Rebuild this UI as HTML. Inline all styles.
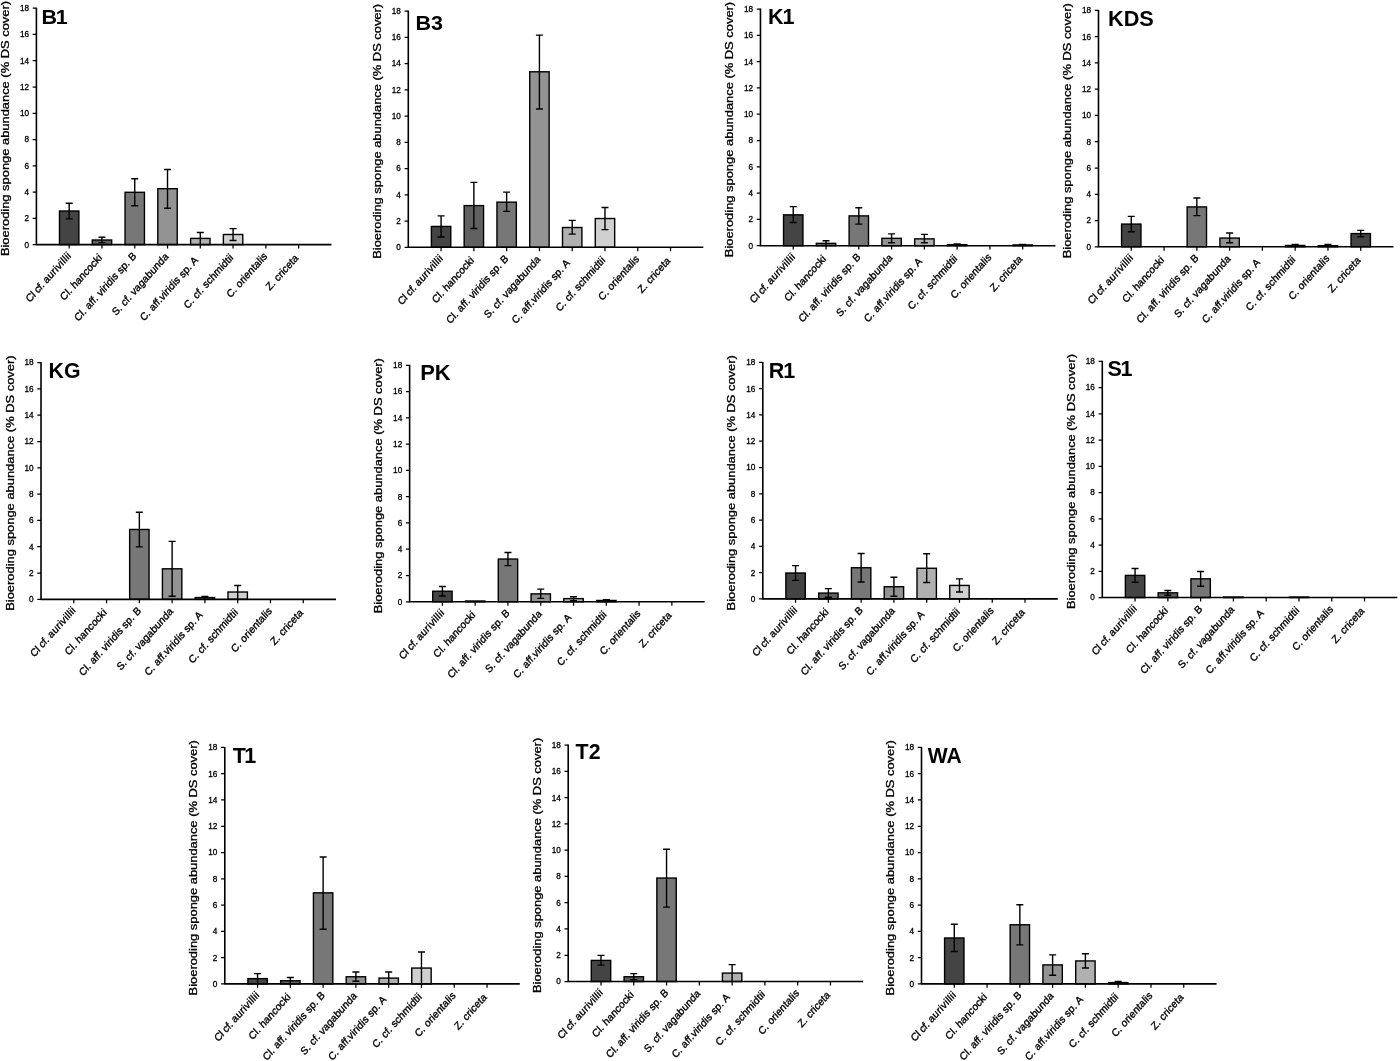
<!DOCTYPE html>
<html><head><meta charset="utf-8"><title>Bioeroding sponge abundance</title>
<style>
html,body{margin:0;padding:0;background:#fff}
svg{display:block}
text{font-family:"Liberation Sans",sans-serif;fill:#000}
.t{font-size:8.2px;text-anchor:end;stroke:#000;stroke-width:0.3px}
.x{font-size:9.8px;text-anchor:end;letter-spacing:0.1px;stroke:#000;stroke-width:0.35px}
.y{font-size:10px;stroke:#000;stroke-width:0.3px}
.h{font-size:20.5px;font-weight:bold}
</style></head><body>
<svg width="1400" height="1061" viewBox="0 0 1400 1061">
<rect width="1400" height="1061" fill="#fff"/>
<g id="B1">
<rect x="59.48" y="211.00" width="19.40" height="33.60" fill="#444444" stroke="#000" stroke-width="1.4"/>
<path d="M69.18 203.30V218.90M65.68 203.30h7M65.68 218.90h7" stroke="#000" stroke-width="1.4" fill="none"/>
<rect x="92.26" y="240.00" width="19.40" height="4.60" fill="#606060" stroke="#000" stroke-width="1.4"/>
<path d="M101.96 237.30V242.60M98.46 237.30h7M98.46 242.60h7" stroke="#000" stroke-width="1.4" fill="none"/>
<rect x="125.04" y="192.30" width="19.40" height="52.30" fill="#777777" stroke="#000" stroke-width="1.4"/>
<path d="M134.74 178.80V205.80M131.24 178.80h7M131.24 205.80h7" stroke="#000" stroke-width="1.4" fill="none"/>
<rect x="157.82" y="188.70" width="19.40" height="55.90" fill="#939393" stroke="#000" stroke-width="1.4"/>
<path d="M167.52 169.50V208.30M164.02 169.50h7M164.02 208.30h7" stroke="#000" stroke-width="1.4" fill="none"/>
<rect x="190.60" y="238.40" width="19.40" height="6.20" fill="#b0b0b0" stroke="#000" stroke-width="1.4"/>
<path d="M200.30 232.50V244.60M196.80 232.50h7" stroke="#000" stroke-width="1.4" fill="none"/>
<rect x="223.38" y="234.50" width="19.40" height="10.10" fill="#d0d0d0" stroke="#000" stroke-width="1.4"/>
<path d="M233.08 228.60V240.50M229.58 228.60h7M229.58 240.50h7" stroke="#000" stroke-width="1.4" fill="none"/>
<path class="ax" d="M36.40 7.70V244.60M35.80 244.60H331.42" stroke="#000" stroke-width="1.6" fill="none"/>
<path d="M32.70 244.60H36.40M32.70 218.33H36.40M32.70 192.07H36.40M32.70 165.80H36.40M32.70 139.53H36.40M32.70 113.27H36.40M32.70 87.00H36.40M32.70 60.73H36.40M32.70 34.47H36.40M32.70 8.20H36.40M69.18 244.60v3.9M101.96 244.60v3.9M134.74 244.60v3.9M167.52 244.60v3.9M200.30 244.60v3.9M233.08 244.60v3.9M265.86 244.60v3.9M298.64 244.60v3.9" stroke="#000" stroke-width="1.25" fill="none"/>
<text class="t" x="29.00" y="247.50">0</text>
<text class="t" x="29.00" y="221.23">2</text>
<text class="t" x="29.00" y="194.97">4</text>
<text class="t" x="29.00" y="168.70">6</text>
<text class="t" x="29.00" y="142.43">8</text>
<text class="t" x="29.00" y="116.17">10</text>
<text class="t" x="29.00" y="89.90">12</text>
<text class="t" x="29.00" y="63.63">14</text>
<text class="t" x="29.00" y="37.37">16</text>
<text class="t" x="29.00" y="11.10">18</text>
<text class="x" transform="translate(71.72 256.16) scale(1 1.115) rotate(-45)"><tspan style="letter-spacing:-0.15px">Cl cf. </tspan><tspan style="letter-spacing:0.33px">aurivillii</tspan></text>
<text class="x" transform="translate(102.62 258.24) scale(1 1.115) rotate(-45)">Cl. hancocki</text>
<text class="x" transform="translate(137.01 256.46) scale(1 1.115) rotate(-45)">Cl. aff. viridis sp. B</text>
<text class="x" transform="translate(169.12 257.20) scale(1 1.115) rotate(-45)">S. cf. vagabunda</text>
<text class="x" transform="translate(198.63 260.85) scale(1 1.115) rotate(-45)">C. aff.viridis sp. A</text>
<text class="x" transform="translate(233.88 258.09) scale(1 1.115) rotate(-45)">C. cf. schmidtii</text>
<text class="x" transform="translate(267.86 256.75) scale(1 1.115) rotate(-45)">C. orientalis</text>
<text class="x" transform="translate(298.97 258.61) scale(1 1.115) rotate(-45)">Z. criceta</text>
<text class="y" transform="translate(9.10 256.10) rotate(-90)" textLength="255.1" lengthAdjust="spacingAndGlyphs">Bioeroding sponge abundance (% DS cover)</text>
<text class="h" style="letter-spacing:-1.2px" transform="translate(41.40 24.00) scale(1.05 0.97)">B1</text>
</g>
<g id="B3">
<rect x="431.38" y="226.45" width="19.40" height="20.85" fill="#444444" stroke="#000" stroke-width="1.4"/>
<path d="M441.08 215.89V237.01M437.58 215.89h7M437.58 237.01h7" stroke="#000" stroke-width="1.4" fill="none"/>
<rect x="464.16" y="205.60" width="19.40" height="41.70" fill="#606060" stroke="#000" stroke-width="1.4"/>
<path d="M473.86 182.38V228.56M470.36 182.38h7M470.36 228.56h7" stroke="#000" stroke-width="1.4" fill="none"/>
<rect x="496.94" y="202.17" width="19.40" height="45.13" fill="#777777" stroke="#000" stroke-width="1.4"/>
<path d="M506.64 192.14V211.41M503.14 192.14h7M503.14 211.41h7" stroke="#000" stroke-width="1.4" fill="none"/>
<rect x="529.72" y="71.79" width="19.40" height="175.51" fill="#939393" stroke="#000" stroke-width="1.4"/>
<path d="M539.42 35.10V109.00M535.92 35.10h7M535.92 109.00h7" stroke="#000" stroke-width="1.4" fill="none"/>
<rect x="562.50" y="227.51" width="19.40" height="19.79" fill="#b0b0b0" stroke="#000" stroke-width="1.4"/>
<path d="M572.20 220.38V234.11M568.70 220.38h7M568.70 234.11h7" stroke="#000" stroke-width="1.4" fill="none"/>
<rect x="595.28" y="218.53" width="19.40" height="28.77" fill="#d0d0d0" stroke="#000" stroke-width="1.4"/>
<path d="M604.98 207.45V229.62M601.48 207.45h7M601.48 229.62h7" stroke="#000" stroke-width="1.4" fill="none"/>
<path class="ax" d="M408.30 10.59V247.30M407.70 247.30H703.32" stroke="#000" stroke-width="1.6" fill="none"/>
<path d="M404.60 247.30H408.30M404.60 221.06H408.30M404.60 194.81H408.30M404.60 168.56H408.30M404.60 142.32H408.30M404.60 116.07H408.30M404.60 89.82H408.30M404.60 63.58H408.30M404.60 37.33H408.30M404.60 11.09H408.30M441.08 247.30v3.9M473.86 247.30v3.9M506.64 247.30v3.9M539.42 247.30v3.9M572.20 247.30v3.9M604.98 247.30v3.9M637.76 247.30v3.9M670.54 247.30v3.9" stroke="#000" stroke-width="1.25" fill="none"/>
<text class="t" x="400.90" y="250.20">0</text>
<text class="t" x="400.90" y="223.96">2</text>
<text class="t" x="400.90" y="197.71">4</text>
<text class="t" x="400.90" y="171.46">6</text>
<text class="t" x="400.90" y="145.22">8</text>
<text class="t" x="400.90" y="118.97">10</text>
<text class="t" x="400.90" y="92.72">12</text>
<text class="t" x="400.90" y="66.48">14</text>
<text class="t" x="400.90" y="40.23">16</text>
<text class="t" x="400.90" y="13.99">18</text>
<text class="x" transform="translate(443.61 258.86) scale(1 1.115) rotate(-45)"><tspan style="letter-spacing:-0.15px">Cl cf. </tspan><tspan style="letter-spacing:0.33px">aurivillii</tspan></text>
<text class="x" transform="translate(474.52 260.94) scale(1 1.115) rotate(-45)">Cl. hancocki</text>
<text class="x" transform="translate(508.91 259.16) scale(1 1.115) rotate(-45)">Cl. aff. viridis sp. B</text>
<text class="x" transform="translate(541.02 259.90) scale(1 1.115) rotate(-45)">S. cf. vagabunda</text>
<text class="x" transform="translate(570.53 263.55) scale(1 1.115) rotate(-45)">C. aff.viridis sp. A</text>
<text class="x" transform="translate(605.78 260.79) scale(1 1.115) rotate(-45)">C. cf. schmidtii</text>
<text class="x" transform="translate(639.76 259.46) scale(1 1.115) rotate(-45)">C. orientalis</text>
<text class="x" transform="translate(670.87 261.32) scale(1 1.115) rotate(-45)">Z. criceta</text>
<text class="y" transform="translate(381.00 258.80) rotate(-90)" textLength="254.9" lengthAdjust="spacingAndGlyphs">Bioeroding sponge abundance (% DS cover)</text>
<text class="h" transform="translate(415.40 30.09) scale(1.05 0.98)">B3</text>
</g>
<g id="K1">
<rect x="783.55" y="214.84" width="19.40" height="30.88" fill="#444444" stroke="#000" stroke-width="1.4"/>
<path d="M793.25 206.66V222.49M789.75 206.66h7M789.75 222.49h7" stroke="#000" stroke-width="1.4" fill="none"/>
<rect x="816.33" y="243.34" width="19.40" height="2.38" fill="#606060" stroke="#000" stroke-width="1.4"/>
<path d="M826.03 240.70V245.72M822.53 240.70h7" stroke="#000" stroke-width="1.4" fill="none"/>
<rect x="849.11" y="215.89" width="19.40" height="29.82" fill="#777777" stroke="#000" stroke-width="1.4"/>
<path d="M858.81 207.71V224.08M855.31 207.71h7M855.31 224.08h7" stroke="#000" stroke-width="1.4" fill="none"/>
<rect x="881.89" y="238.33" width="19.40" height="7.39" fill="#939393" stroke="#000" stroke-width="1.4"/>
<path d="M891.59 233.84V242.82M888.09 233.84h7M888.09 242.82h7" stroke="#000" stroke-width="1.4" fill="none"/>
<rect x="914.67" y="238.86" width="19.40" height="6.86" fill="#b0b0b0" stroke="#000" stroke-width="1.4"/>
<path d="M924.37 234.37V242.82M920.87 234.37h7M920.87 242.82h7" stroke="#000" stroke-width="1.4" fill="none"/>
<rect x="947.45" y="244.66" width="19.40" height="1.06" fill="#d0d0d0" stroke="#000" stroke-width="1.4"/>
<path d="M957.15 243.87V245.72M953.65 243.87h7" stroke="#000" stroke-width="1.4" fill="none"/>
<rect x="1013.01" y="244.93" width="19.40" height="0.79" fill="#444444" stroke="#000" stroke-width="1.4"/>
<path d="M1022.71 244.40V245.72M1019.21 244.40h7" stroke="#000" stroke-width="1.4" fill="none"/>
<path class="ax" d="M760.47 8.55V245.72M759.87 245.72H1055.49" stroke="#000" stroke-width="1.6" fill="none"/>
<path d="M756.77 245.72H760.47M756.77 219.42H760.47M756.77 193.13H760.47M756.77 166.83H760.47M756.77 140.53H760.47M756.77 114.24H760.47M756.77 87.94H760.47M756.77 61.65H760.47M756.77 35.35H760.47M756.77 9.05H760.47M793.25 245.72v3.9M826.03 245.72v3.9M858.81 245.72v3.9M891.59 245.72v3.9M924.37 245.72v3.9M957.15 245.72v3.9M989.93 245.72v3.9M1022.71 245.72v3.9" stroke="#000" stroke-width="1.25" fill="none"/>
<text class="t" x="753.07" y="248.62">0</text>
<text class="t" x="753.07" y="222.32">2</text>
<text class="t" x="753.07" y="196.03">4</text>
<text class="t" x="753.07" y="169.73">6</text>
<text class="t" x="753.07" y="143.43">8</text>
<text class="t" x="753.07" y="117.14">10</text>
<text class="t" x="753.07" y="90.84">12</text>
<text class="t" x="753.07" y="64.55">14</text>
<text class="t" x="753.07" y="38.25">16</text>
<text class="t" x="753.07" y="11.95">18</text>
<text class="x" transform="translate(795.78 257.28) scale(1 1.115) rotate(-45)"><tspan style="letter-spacing:-0.15px">Cl cf. </tspan><tspan style="letter-spacing:0.33px">aurivillii</tspan></text>
<text class="x" transform="translate(826.69 259.36) scale(1 1.115) rotate(-45)">Cl. hancocki</text>
<text class="x" transform="translate(861.08 257.57) scale(1 1.115) rotate(-45)">Cl. aff. viridis sp. B</text>
<text class="x" transform="translate(893.19 258.32) scale(1 1.115) rotate(-45)">S. cf. vagabunda</text>
<text class="x" transform="translate(922.70 261.96) scale(1 1.115) rotate(-45)">C. aff.viridis sp. A</text>
<text class="x" transform="translate(957.95 259.21) scale(1 1.115) rotate(-45)">C. cf. schmidtii</text>
<text class="x" transform="translate(991.93 257.87) scale(1 1.115) rotate(-45)">C. orientalis</text>
<text class="x" transform="translate(1023.04 259.73) scale(1 1.115) rotate(-45)">Z. criceta</text>
<text class="y" transform="translate(733.17 257.22) rotate(-90)" textLength="255.4" lengthAdjust="spacingAndGlyphs">Bioeroding sponge abundance (% DS cover)</text>
<text class="h" style="letter-spacing:-1.0px" transform="translate(767.97 23.85) scale(1.05 1.04)">K1</text>
</g>
<g id="KDS">
<rect x="1121.57" y="224.08" width="19.40" height="22.70" fill="#444444" stroke="#000" stroke-width="1.4"/>
<path d="M1131.27 216.42V231.73M1127.77 216.42h7M1127.77 231.73h7" stroke="#000" stroke-width="1.4" fill="none"/>
<rect x="1187.13" y="206.92" width="19.40" height="39.85" fill="#777777" stroke="#000" stroke-width="1.4"/>
<path d="M1196.83 197.95V215.63M1193.33 197.95h7M1193.33 215.63h7" stroke="#000" stroke-width="1.4" fill="none"/>
<rect x="1219.91" y="238.06" width="19.40" height="8.71" fill="#939393" stroke="#000" stroke-width="1.4"/>
<path d="M1229.61 233.05V242.82M1226.11 233.05h7M1226.11 242.82h7" stroke="#000" stroke-width="1.4" fill="none"/>
<rect x="1285.47" y="245.45" width="19.40" height="1.32" fill="#d0d0d0" stroke="#000" stroke-width="1.4"/>
<path d="M1295.17 244.40V246.77M1291.67 244.40h7" stroke="#000" stroke-width="1.4" fill="none"/>
<rect x="1318.25" y="245.72" width="19.40" height="1.06" fill="#eeeeee" stroke="#000" stroke-width="1.4"/>
<path d="M1327.95 244.40V246.77M1324.45 244.40h7" stroke="#000" stroke-width="1.4" fill="none"/>
<rect x="1351.03" y="233.58" width="19.40" height="13.20" fill="#444444" stroke="#000" stroke-width="1.4"/>
<path d="M1360.73 230.41V236.74M1357.23 230.41h7M1357.23 236.74h7" stroke="#000" stroke-width="1.4" fill="none"/>
<path class="ax" d="M1098.49 9.95V246.77M1097.89 246.77H1393.51" stroke="#000" stroke-width="1.6" fill="none"/>
<path d="M1094.79 246.77H1098.49M1094.79 220.52H1098.49M1094.79 194.26H1098.49M1094.79 168.00H1098.49M1094.79 141.74H1098.49M1094.79 115.48H1098.49M1094.79 89.23H1098.49M1094.79 62.97H1098.49M1094.79 36.71H1098.49M1094.79 10.45H1098.49M1131.27 246.77v3.9M1164.05 246.77v3.9M1196.83 246.77v3.9M1229.61 246.77v3.9M1262.39 246.77v3.9M1295.17 246.77v3.9M1327.95 246.77v3.9M1360.73 246.77v3.9" stroke="#000" stroke-width="1.25" fill="none"/>
<text class="t" x="1091.09" y="249.67">0</text>
<text class="t" x="1091.09" y="223.42">2</text>
<text class="t" x="1091.09" y="197.16">4</text>
<text class="t" x="1091.09" y="170.90">6</text>
<text class="t" x="1091.09" y="144.64">8</text>
<text class="t" x="1091.09" y="118.38">10</text>
<text class="t" x="1091.09" y="92.13">12</text>
<text class="t" x="1091.09" y="65.87">14</text>
<text class="t" x="1091.09" y="39.61">16</text>
<text class="t" x="1091.09" y="13.35">18</text>
<text class="x" transform="translate(1133.80 258.33) scale(1 1.115) rotate(-45)"><tspan style="letter-spacing:-0.15px">Cl cf. </tspan><tspan style="letter-spacing:0.33px">aurivillii</tspan></text>
<text class="x" transform="translate(1164.71 260.42) scale(1 1.115) rotate(-45)">Cl. hancocki</text>
<text class="x" transform="translate(1199.09 258.63) scale(1 1.115) rotate(-45)">Cl. aff. viridis sp. B</text>
<text class="x" transform="translate(1231.21 259.37) scale(1 1.115) rotate(-45)">S. cf. vagabunda</text>
<text class="x" transform="translate(1260.71 263.02) scale(1 1.115) rotate(-45)">C. aff.viridis sp. A</text>
<text class="x" transform="translate(1295.97 260.27) scale(1 1.115) rotate(-45)">C. cf. schmidtii</text>
<text class="x" transform="translate(1329.95 258.93) scale(1 1.115) rotate(-45)">C. orientalis</text>
<text class="x" transform="translate(1361.06 260.79) scale(1 1.115) rotate(-45)">Z. criceta</text>
<text class="y" transform="translate(1071.19 258.27) rotate(-90)" textLength="255.0" lengthAdjust="spacingAndGlyphs">Bioeroding sponge abundance (% DS cover)</text>
<text class="h" transform="translate(1107.99 26.15) scale(1.06 1.04)">KDS</text>
</g>
<g id="KG">
<rect x="129.65" y="529.47" width="19.40" height="69.86" fill="#777777" stroke="#000" stroke-width="1.4"/>
<path d="M139.35 512.32V546.89M135.85 512.32h7M135.85 546.89h7" stroke="#000" stroke-width="1.4" fill="none"/>
<rect x="162.43" y="568.80" width="19.40" height="30.54" fill="#939393" stroke="#000" stroke-width="1.4"/>
<path d="M172.13 541.35V596.25M168.63 541.35h7M168.63 596.25h7" stroke="#000" stroke-width="1.4" fill="none"/>
<rect x="195.21" y="597.57" width="19.40" height="1.77" fill="#b0b0b0" stroke="#000" stroke-width="1.4"/>
<path d="M204.91 596.51V599.33M201.41 596.51h7" stroke="#000" stroke-width="1.4" fill="none"/>
<rect x="227.99" y="592.02" width="19.40" height="7.31" fill="#d0d0d0" stroke="#000" stroke-width="1.4"/>
<path d="M237.69 585.43V599.33M234.19 585.43h7" stroke="#000" stroke-width="1.4" fill="none"/>
<path class="ax" d="M41.01 362.09V599.33M40.41 599.33H336.03" stroke="#000" stroke-width="1.6" fill="none"/>
<path d="M37.31 599.33H41.01M37.31 573.03H41.01M37.31 546.72H41.01M37.31 520.42H41.01M37.31 494.11H41.01M37.31 467.81H41.01M37.31 441.50H41.01M37.31 415.20H41.01M37.31 388.89H41.01M37.31 362.59H41.01M73.79 599.33v3.9M106.57 599.33v3.9M139.35 599.33v3.9M172.13 599.33v3.9M204.91 599.33v3.9M237.69 599.33v3.9M270.47 599.33v3.9M303.25 599.33v3.9" stroke="#000" stroke-width="1.25" fill="none"/>
<text class="t" x="33.61" y="602.23">0</text>
<text class="t" x="33.61" y="575.93">2</text>
<text class="t" x="33.61" y="549.62">4</text>
<text class="t" x="33.61" y="523.32">6</text>
<text class="t" x="33.61" y="497.01">8</text>
<text class="t" x="33.61" y="470.71">10</text>
<text class="t" x="33.61" y="444.40">12</text>
<text class="t" x="33.61" y="418.10">14</text>
<text class="t" x="33.61" y="391.79">16</text>
<text class="t" x="33.61" y="365.49">18</text>
<text class="x" transform="translate(76.33 610.89) scale(1 1.115) rotate(-45)"><tspan style="letter-spacing:-0.15px">Cl cf. </tspan><tspan style="letter-spacing:0.33px">aurivillii</tspan></text>
<text class="x" transform="translate(107.24 612.98) scale(1 1.115) rotate(-45)">Cl. hancocki</text>
<text class="x" transform="translate(141.62 611.19) scale(1 1.115) rotate(-45)">Cl. aff. viridis sp. B</text>
<text class="x" transform="translate(173.73 611.93) scale(1 1.115) rotate(-45)">S. cf. vagabunda</text>
<text class="x" transform="translate(203.24 615.58) scale(1 1.115) rotate(-45)">C. aff.viridis sp. A</text>
<text class="x" transform="translate(238.49 612.83) scale(1 1.115) rotate(-45)">C. cf. schmidtii</text>
<text class="x" transform="translate(272.48 611.49) scale(1 1.115) rotate(-45)">C. orientalis</text>
<text class="x" transform="translate(303.59 613.35) scale(1 1.115) rotate(-45)">Z. criceta</text>
<text class="y" transform="translate(13.71 610.83) rotate(-90)" textLength="255.4" lengthAdjust="spacingAndGlyphs">Bioeroding sponge abundance (% DS cover)</text>
<text class="h" transform="translate(48.61 377.79) scale(1.04 1.04)">KG</text>
</g>
<g id="PK">
<rect x="432.70" y="591.23" width="19.40" height="10.56" fill="#444444" stroke="#000" stroke-width="1.4"/>
<path d="M442.40 586.48V595.98M438.90 586.48h7M438.90 595.98h7" stroke="#000" stroke-width="1.4" fill="none"/>
<rect x="465.48" y="601.00" width="19.40" height="0.79" fill="#606060" stroke="#000" stroke-width="1.4"/>
<rect x="498.26" y="559.03" width="19.40" height="42.76" fill="#777777" stroke="#000" stroke-width="1.4"/>
<path d="M507.96 552.43V565.63M504.46 552.43h7M504.46 565.63h7" stroke="#000" stroke-width="1.4" fill="none"/>
<rect x="531.04" y="593.87" width="19.40" height="7.92" fill="#939393" stroke="#000" stroke-width="1.4"/>
<path d="M540.74 589.12V598.36M537.24 589.12h7M537.24 598.36h7" stroke="#000" stroke-width="1.4" fill="none"/>
<rect x="563.82" y="598.62" width="19.40" height="3.17" fill="#b0b0b0" stroke="#000" stroke-width="1.4"/>
<path d="M573.52 596.77V600.73M570.02 596.77h7M570.02 600.73h7" stroke="#000" stroke-width="1.4" fill="none"/>
<rect x="596.60" y="600.47" width="19.40" height="1.32" fill="#d0d0d0" stroke="#000" stroke-width="1.4"/>
<path d="M606.30 599.68V601.79M602.80 599.68h7" stroke="#000" stroke-width="1.4" fill="none"/>
<path class="ax" d="M409.62 364.81V601.79M409.02 601.79H704.64" stroke="#000" stroke-width="1.6" fill="none"/>
<path d="M405.92 601.79H409.62M405.92 575.51H409.62M405.92 549.24H409.62M405.92 522.96H409.62M405.92 496.69H409.62M405.92 470.41H409.62M405.92 444.13H409.62M405.92 417.86H409.62M405.92 391.58H409.62M405.92 365.31H409.62M442.40 601.79v3.9M475.18 601.79v3.9M507.96 601.79v3.9M540.74 601.79v3.9M573.52 601.79v3.9M606.30 601.79v3.9M639.08 601.79v3.9M671.86 601.79v3.9" stroke="#000" stroke-width="1.25" fill="none"/>
<text class="t" x="402.22" y="604.69">0</text>
<text class="t" x="402.22" y="578.41">2</text>
<text class="t" x="402.22" y="552.14">4</text>
<text class="t" x="402.22" y="525.86">6</text>
<text class="t" x="402.22" y="499.59">8</text>
<text class="t" x="402.22" y="473.31">10</text>
<text class="t" x="402.22" y="447.03">12</text>
<text class="t" x="402.22" y="420.76">14</text>
<text class="t" x="402.22" y="394.48">16</text>
<text class="t" x="402.22" y="368.21">18</text>
<text class="x" transform="translate(444.93 613.35) scale(1 1.115) rotate(-45)"><tspan style="letter-spacing:-0.15px">Cl cf. </tspan><tspan style="letter-spacing:0.33px">aurivillii</tspan></text>
<text class="x" transform="translate(475.84 615.43) scale(1 1.115) rotate(-45)">Cl. hancocki</text>
<text class="x" transform="translate(510.23 613.64) scale(1 1.115) rotate(-45)">Cl. aff. viridis sp. B</text>
<text class="x" transform="translate(542.34 614.39) scale(1 1.115) rotate(-45)">S. cf. vagabunda</text>
<text class="x" transform="translate(571.85 618.03) scale(1 1.115) rotate(-45)">C. aff.viridis sp. A</text>
<text class="x" transform="translate(607.10 615.28) scale(1 1.115) rotate(-45)">C. cf. schmidtii</text>
<text class="x" transform="translate(641.08 613.94) scale(1 1.115) rotate(-45)">C. orientalis</text>
<text class="x" transform="translate(672.19 615.80) scale(1 1.115) rotate(-45)">Z. criceta</text>
<text class="y" transform="translate(382.32 613.29) rotate(-90)" textLength="255.2" lengthAdjust="spacingAndGlyphs">Bioeroding sponge abundance (% DS cover)</text>
<text class="h" transform="translate(420.22 380.41) scale(1.07 1.04)">PK</text>
</g>
<g id="R1">
<rect x="785.87" y="573.02" width="19.40" height="25.87" fill="#444444" stroke="#000" stroke-width="1.4"/>
<path d="M795.57 565.63V580.41M792.07 565.63h7M792.07 580.41h7" stroke="#000" stroke-width="1.4" fill="none"/>
<rect x="818.65" y="593.08" width="19.40" height="5.81" fill="#606060" stroke="#000" stroke-width="1.4"/>
<path d="M828.35 588.59V597.30M824.85 588.59h7M824.85 597.30h7" stroke="#000" stroke-width="1.4" fill="none"/>
<rect x="851.43" y="567.74" width="19.40" height="31.14" fill="#777777" stroke="#000" stroke-width="1.4"/>
<path d="M861.13 553.49V581.99M857.63 553.49h7M857.63 581.99h7" stroke="#000" stroke-width="1.4" fill="none"/>
<rect x="884.21" y="586.74" width="19.40" height="12.14" fill="#939393" stroke="#000" stroke-width="1.4"/>
<path d="M893.91 577.24V596.25M890.41 577.24h7M890.41 596.25h7" stroke="#000" stroke-width="1.4" fill="none"/>
<rect x="916.99" y="568.27" width="19.40" height="30.62" fill="#b0b0b0" stroke="#000" stroke-width="1.4"/>
<path d="M926.69 553.75V582.52M923.19 553.75h7M923.19 582.52h7" stroke="#000" stroke-width="1.4" fill="none"/>
<rect x="949.77" y="585.43" width="19.40" height="13.46" fill="#d0d0d0" stroke="#000" stroke-width="1.4"/>
<path d="M959.47 578.83V592.02M955.97 578.83h7M955.97 592.02h7" stroke="#000" stroke-width="1.4" fill="none"/>
<path class="ax" d="M762.79 361.90V598.89M762.19 598.89H1057.81" stroke="#000" stroke-width="1.6" fill="none"/>
<path d="M759.09 598.89H762.79M759.09 572.61H762.79M759.09 546.33H762.79M759.09 520.06H762.79M759.09 493.78H762.79M759.09 467.51H762.79M759.09 441.23H762.79M759.09 414.96H762.79M759.09 388.68H762.79M759.09 362.40H762.79M795.57 598.89v3.9M828.35 598.89v3.9M861.13 598.89v3.9M893.91 598.89v3.9M926.69 598.89v3.9M959.47 598.89v3.9M992.25 598.89v3.9M1025.03 598.89v3.9" stroke="#000" stroke-width="1.25" fill="none"/>
<text class="t" x="755.39" y="601.79">0</text>
<text class="t" x="755.39" y="575.51">2</text>
<text class="t" x="755.39" y="549.23">4</text>
<text class="t" x="755.39" y="522.96">6</text>
<text class="t" x="755.39" y="496.68">8</text>
<text class="t" x="755.39" y="470.41">10</text>
<text class="t" x="755.39" y="444.13">12</text>
<text class="t" x="755.39" y="417.86">14</text>
<text class="t" x="755.39" y="391.58">16</text>
<text class="t" x="755.39" y="365.30">18</text>
<text class="x" transform="translate(798.11 610.44) scale(1 1.115) rotate(-45)"><tspan style="letter-spacing:-0.15px">Cl cf. </tspan><tspan style="letter-spacing:0.33px">aurivillii</tspan></text>
<text class="x" transform="translate(829.02 612.53) scale(1 1.115) rotate(-45)">Cl. hancocki</text>
<text class="x" transform="translate(863.40 610.74) scale(1 1.115) rotate(-45)">Cl. aff. viridis sp. B</text>
<text class="x" transform="translate(895.51 611.49) scale(1 1.115) rotate(-45)">S. cf. vagabunda</text>
<text class="x" transform="translate(925.02 615.13) scale(1 1.115) rotate(-45)">C. aff.viridis sp. A</text>
<text class="x" transform="translate(960.27 612.38) scale(1 1.115) rotate(-45)">C. cf. schmidtii</text>
<text class="x" transform="translate(994.25 611.04) scale(1 1.115) rotate(-45)">C. orientalis</text>
<text class="x" transform="translate(1025.36 612.90) scale(1 1.115) rotate(-45)">Z. criceta</text>
<text class="y" transform="translate(735.49 610.39) rotate(-90)" textLength="255.2" lengthAdjust="spacingAndGlyphs">Bioeroding sponge abundance (% DS cover)</text>
<text class="h" style="letter-spacing:-1.0px" transform="translate(768.79 377.70) scale(1.05 1.04)">R1</text>
</g>
<g id="S1">
<rect x="1125.37" y="575.40" width="19.40" height="22.17" fill="#444444" stroke="#000" stroke-width="1.4"/>
<path d="M1135.07 568.53V582.26M1131.57 568.53h7M1131.57 582.26h7" stroke="#000" stroke-width="1.4" fill="none"/>
<rect x="1158.15" y="592.82" width="19.40" height="4.75" fill="#606060" stroke="#000" stroke-width="1.4"/>
<path d="M1167.85 590.44V595.19M1164.35 590.44h7M1164.35 595.19h7" stroke="#000" stroke-width="1.4" fill="none"/>
<rect x="1190.93" y="578.83" width="19.40" height="18.74" fill="#777777" stroke="#000" stroke-width="1.4"/>
<path d="M1200.63 571.44V586.22M1197.13 571.44h7M1197.13 586.22h7" stroke="#000" stroke-width="1.4" fill="none"/>
<rect x="1223.71" y="597.04" width="19.40" height="0.53" fill="#939393" stroke="#000" stroke-width="1.4"/>
<rect x="1289.27" y="597.04" width="19.40" height="0.53" fill="#d0d0d0" stroke="#000" stroke-width="1.4"/>
<path class="ax" d="M1102.29 360.80V597.57M1101.69 597.57H1397.31" stroke="#000" stroke-width="1.6" fill="none"/>
<path d="M1098.59 597.57H1102.29M1098.59 571.31H1102.29M1098.59 545.06H1102.29M1098.59 518.81H1102.29M1098.59 492.56H1102.29M1098.59 466.30H1102.29M1098.59 440.05H1102.29M1098.59 413.80H1102.29M1098.59 387.55H1102.29M1098.59 361.30H1102.29M1135.07 597.57v3.9M1167.85 597.57v3.9M1200.63 597.57v3.9M1233.41 597.57v3.9M1266.19 597.57v3.9M1298.97 597.57v3.9M1331.75 597.57v3.9M1364.53 597.57v3.9" stroke="#000" stroke-width="1.25" fill="none"/>
<text class="t" x="1094.89" y="600.47">0</text>
<text class="t" x="1094.89" y="574.21">2</text>
<text class="t" x="1094.89" y="547.96">4</text>
<text class="t" x="1094.89" y="521.71">6</text>
<text class="t" x="1094.89" y="495.46">8</text>
<text class="t" x="1094.89" y="469.20">10</text>
<text class="t" x="1094.89" y="442.95">12</text>
<text class="t" x="1094.89" y="416.70">14</text>
<text class="t" x="1094.89" y="390.45">16</text>
<text class="t" x="1094.89" y="364.20">18</text>
<text class="x" transform="translate(1137.60 609.12) scale(1 1.115) rotate(-45)"><tspan style="letter-spacing:-0.15px">Cl cf. </tspan><tspan style="letter-spacing:0.33px">aurivillii</tspan></text>
<text class="x" transform="translate(1168.51 611.21) scale(1 1.115) rotate(-45)">Cl. hancocki</text>
<text class="x" transform="translate(1202.90 609.42) scale(1 1.115) rotate(-45)">Cl. aff. viridis sp. B</text>
<text class="x" transform="translate(1235.01 610.17) scale(1 1.115) rotate(-45)">S. cf. vagabunda</text>
<text class="x" transform="translate(1264.51 613.81) scale(1 1.115) rotate(-45)">C. aff.viridis sp. A</text>
<text class="x" transform="translate(1299.77 611.06) scale(1 1.115) rotate(-45)">C. cf. schmidtii</text>
<text class="x" transform="translate(1333.75 609.72) scale(1 1.115) rotate(-45)">C. orientalis</text>
<text class="x" transform="translate(1364.86 611.58) scale(1 1.115) rotate(-45)">Z. criceta</text>
<text class="y" transform="translate(1074.99 609.07) rotate(-90)" textLength="255.0" lengthAdjust="spacingAndGlyphs">Bioeroding sponge abundance (% DS cover)</text>
<text class="h" style="letter-spacing:-1.2px" transform="translate(1107.39 376.40) scale(1.05 1.04)">S1</text>
</g>
<g id="T1">
<rect x="247.87" y="978.62" width="19.40" height="5.28" fill="#444444" stroke="#000" stroke-width="1.4"/>
<path d="M257.57 973.61V983.90M254.07 973.61h7" stroke="#000" stroke-width="1.4" fill="none"/>
<rect x="280.65" y="980.73" width="19.40" height="3.17" fill="#606060" stroke="#000" stroke-width="1.4"/>
<path d="M290.35 977.57V983.90M286.85 977.57h7" stroke="#000" stroke-width="1.4" fill="none"/>
<rect x="313.43" y="892.84" width="19.40" height="91.06" fill="#777777" stroke="#000" stroke-width="1.4"/>
<path d="M323.13 856.95V929.27M319.63 856.95h7M319.63 929.27h7" stroke="#000" stroke-width="1.4" fill="none"/>
<rect x="346.21" y="976.77" width="19.40" height="7.13" fill="#939393" stroke="#000" stroke-width="1.4"/>
<path d="M355.91 972.02V981.26M352.41 972.02h7M352.41 981.26h7" stroke="#000" stroke-width="1.4" fill="none"/>
<rect x="378.99" y="978.09" width="19.40" height="5.81" fill="#b0b0b0" stroke="#000" stroke-width="1.4"/>
<path d="M388.69 972.02V983.90M385.19 972.02h7" stroke="#000" stroke-width="1.4" fill="none"/>
<rect x="411.77" y="968.06" width="19.40" height="15.84" fill="#d0d0d0" stroke="#000" stroke-width="1.4"/>
<path d="M421.47 951.96V983.90M417.97 951.96h7" stroke="#000" stroke-width="1.4" fill="none"/>
<path class="ax" d="M224.79 746.92V983.90M224.19 983.90H519.81" stroke="#000" stroke-width="1.6" fill="none"/>
<path d="M221.09 983.90H224.79M221.09 957.62H224.79M221.09 931.35H224.79M221.09 905.07H224.79M221.09 878.80H224.79M221.09 852.52H224.79M221.09 826.25H224.79M221.09 799.97H224.79M221.09 773.70H224.79M221.09 747.42H224.79M257.57 983.90v3.9M290.35 983.90v3.9M323.13 983.90v3.9M355.91 983.90v3.9M388.69 983.90v3.9M421.47 983.90v3.9M454.25 983.90v3.9M487.03 983.90v3.9" stroke="#000" stroke-width="1.25" fill="none"/>
<text class="t" x="217.39" y="986.80">0</text>
<text class="t" x="217.39" y="960.52">2</text>
<text class="t" x="217.39" y="934.25">4</text>
<text class="t" x="217.39" y="907.97">6</text>
<text class="t" x="217.39" y="881.70">8</text>
<text class="t" x="217.39" y="855.42">10</text>
<text class="t" x="217.39" y="829.15">12</text>
<text class="t" x="217.39" y="802.87">14</text>
<text class="t" x="217.39" y="776.60">16</text>
<text class="t" x="217.39" y="750.32">18</text>
<text class="x" transform="translate(260.11 995.46) scale(1 1.115) rotate(-45)"><tspan style="letter-spacing:-0.15px">Cl cf. </tspan><tspan style="letter-spacing:0.33px">aurivillii</tspan></text>
<text class="x" transform="translate(291.02 997.54) scale(1 1.115) rotate(-45)">Cl. hancocki</text>
<text class="x" transform="translate(325.40 995.76) scale(1 1.115) rotate(-45)">Cl. aff. viridis sp. B</text>
<text class="x" transform="translate(357.51 996.50) scale(1 1.115) rotate(-45)">S. cf. vagabunda</text>
<text class="x" transform="translate(387.02 1000.15) scale(1 1.115) rotate(-45)">C. aff.viridis sp. A</text>
<text class="x" transform="translate(422.27 997.39) scale(1 1.115) rotate(-45)">C. cf. schmidtii</text>
<text class="x" transform="translate(456.25 996.05) scale(1 1.115) rotate(-45)">C. orientalis</text>
<text class="x" transform="translate(487.36 997.91) scale(1 1.115) rotate(-45)">Z. criceta</text>
<text class="y" transform="translate(197.49 995.40) rotate(-90)" textLength="255.2" lengthAdjust="spacingAndGlyphs">Bioeroding sponge abundance (% DS cover)</text>
<text class="h" style="letter-spacing:-1.5px" transform="translate(232.79 762.62) scale(1.05 1.04)">T1</text>
</g>
<g id="T2">
<rect x="591.29" y="960.41" width="19.40" height="21.11" fill="#444444" stroke="#000" stroke-width="1.4"/>
<path d="M600.99 955.40V965.16M597.49 955.40h7M597.49 965.16h7" stroke="#000" stroke-width="1.4" fill="none"/>
<rect x="624.07" y="976.77" width="19.40" height="4.75" fill="#606060" stroke="#000" stroke-width="1.4"/>
<path d="M633.77 973.61V979.68M630.27 973.61h7M630.27 979.68h7" stroke="#000" stroke-width="1.4" fill="none"/>
<rect x="656.85" y="878.06" width="19.40" height="103.46" fill="#777777" stroke="#000" stroke-width="1.4"/>
<path d="M666.55 849.30V907.10M663.05 849.30h7M663.05 907.10h7" stroke="#000" stroke-width="1.4" fill="none"/>
<rect x="722.41" y="973.08" width="19.40" height="8.45" fill="#b0b0b0" stroke="#000" stroke-width="1.4"/>
<path d="M732.11 964.63V981.52M728.61 964.63h7" stroke="#000" stroke-width="1.4" fill="none"/>
<path class="ax" d="M568.21 744.54V981.52M567.61 981.52H863.23" stroke="#000" stroke-width="1.6" fill="none"/>
<path d="M564.51 981.52H568.21M564.51 955.25H568.21M564.51 928.97H568.21M564.51 902.70H568.21M564.51 876.42H568.21M564.51 850.15H568.21M564.51 823.87H568.21M564.51 797.60H568.21M564.51 771.32H568.21M564.51 745.04H568.21M600.99 981.52v3.9M633.77 981.52v3.9M666.55 981.52v3.9M699.33 981.52v3.9M732.11 981.52v3.9M764.89 981.52v3.9M797.67 981.52v3.9M830.45 981.52v3.9" stroke="#000" stroke-width="1.25" fill="none"/>
<text class="t" x="560.81" y="984.42">0</text>
<text class="t" x="560.81" y="958.15">2</text>
<text class="t" x="560.81" y="931.87">4</text>
<text class="t" x="560.81" y="905.60">6</text>
<text class="t" x="560.81" y="879.32">8</text>
<text class="t" x="560.81" y="853.05">10</text>
<text class="t" x="560.81" y="826.77">12</text>
<text class="t" x="560.81" y="800.50">14</text>
<text class="t" x="560.81" y="774.22">16</text>
<text class="t" x="560.81" y="747.94">18</text>
<text class="x" transform="translate(603.52 993.08) scale(1 1.115) rotate(-45)"><tspan style="letter-spacing:-0.15px">Cl cf. </tspan><tspan style="letter-spacing:0.33px">aurivillii</tspan></text>
<text class="x" transform="translate(634.43 995.17) scale(1 1.115) rotate(-45)">Cl. hancocki</text>
<text class="x" transform="translate(668.82 993.38) scale(1 1.115) rotate(-45)">Cl. aff. viridis sp. B</text>
<text class="x" transform="translate(700.93 994.12) scale(1 1.115) rotate(-45)">S. cf. vagabunda</text>
<text class="x" transform="translate(730.44 997.77) scale(1 1.115) rotate(-45)">C. aff.viridis sp. A</text>
<text class="x" transform="translate(765.69 995.02) scale(1 1.115) rotate(-45)">C. cf. schmidtii</text>
<text class="x" transform="translate(799.67 993.68) scale(1 1.115) rotate(-45)">C. orientalis</text>
<text class="x" transform="translate(830.78 995.54) scale(1 1.115) rotate(-45)">Z. criceta</text>
<text class="y" transform="translate(540.91 993.02) rotate(-90)" textLength="255.2" lengthAdjust="spacingAndGlyphs">Bioeroding sponge abundance (% DS cover)</text>
<text class="h" transform="translate(575.61 759.04) scale(1.04 1.04)">T2</text>
</g>
<g id="WA">
<rect x="944.58" y="937.98" width="19.40" height="45.92" fill="#444444" stroke="#000" stroke-width="1.4"/>
<path d="M954.28 924.25V951.44M950.78 924.25h7M950.78 951.44h7" stroke="#000" stroke-width="1.4" fill="none"/>
<rect x="1010.14" y="924.78" width="19.40" height="59.12" fill="#777777" stroke="#000" stroke-width="1.4"/>
<path d="M1019.84 904.72V944.84M1016.34 904.72h7M1016.34 944.84h7" stroke="#000" stroke-width="1.4" fill="none"/>
<rect x="1042.92" y="964.90" width="19.40" height="19.00" fill="#939393" stroke="#000" stroke-width="1.4"/>
<path d="M1052.62 954.87V975.19M1049.12 954.87h7M1049.12 975.19h7" stroke="#000" stroke-width="1.4" fill="none"/>
<rect x="1075.70" y="960.94" width="19.40" height="22.96" fill="#b0b0b0" stroke="#000" stroke-width="1.4"/>
<path d="M1085.40 953.81V968.06M1081.90 953.81h7M1081.90 968.06h7" stroke="#000" stroke-width="1.4" fill="none"/>
<rect x="1108.48" y="982.58" width="19.40" height="1.32" fill="#d0d0d0" stroke="#000" stroke-width="1.4"/>
<path d="M1118.18 981.52V983.90M1114.68 981.52h7" stroke="#000" stroke-width="1.4" fill="none"/>
<path class="ax" d="M921.50 746.92V983.90M920.90 983.90H1216.52" stroke="#000" stroke-width="1.6" fill="none"/>
<path d="M917.80 983.90H921.50M917.80 957.62H921.50M917.80 931.35H921.50M917.80 905.07H921.50M917.80 878.80H921.50M917.80 852.52H921.50M917.80 826.25H921.50M917.80 799.97H921.50M917.80 773.70H921.50M917.80 747.42H921.50M954.28 983.90v3.9M987.06 983.90v3.9M1019.84 983.90v3.9M1052.62 983.90v3.9M1085.40 983.90v3.9M1118.18 983.90v3.9M1150.96 983.90v3.9M1183.74 983.90v3.9" stroke="#000" stroke-width="1.25" fill="none"/>
<text class="t" x="914.10" y="986.80">0</text>
<text class="t" x="914.10" y="960.52">2</text>
<text class="t" x="914.10" y="934.25">4</text>
<text class="t" x="914.10" y="907.97">6</text>
<text class="t" x="914.10" y="881.70">8</text>
<text class="t" x="914.10" y="855.42">10</text>
<text class="t" x="914.10" y="829.15">12</text>
<text class="t" x="914.10" y="802.87">14</text>
<text class="t" x="914.10" y="776.60">16</text>
<text class="t" x="914.10" y="750.32">18</text>
<text class="x" transform="translate(956.81 995.46) scale(1 1.115) rotate(-45)"><tspan style="letter-spacing:-0.15px">Cl cf. </tspan><tspan style="letter-spacing:0.33px">aurivillii</tspan></text>
<text class="x" transform="translate(987.72 997.54) scale(1 1.115) rotate(-45)">Cl. hancocki</text>
<text class="x" transform="translate(1022.10 995.76) scale(1 1.115) rotate(-45)">Cl. aff. viridis sp. B</text>
<text class="x" transform="translate(1054.22 996.50) scale(1 1.115) rotate(-45)">S. cf. vagabunda</text>
<text class="x" transform="translate(1083.72 1000.15) scale(1 1.115) rotate(-45)">C. aff.viridis sp. A</text>
<text class="x" transform="translate(1118.97 997.39) scale(1 1.115) rotate(-45)">C. cf. schmidtii</text>
<text class="x" transform="translate(1152.96 996.05) scale(1 1.115) rotate(-45)">C. orientalis</text>
<text class="x" transform="translate(1184.07 997.91) scale(1 1.115) rotate(-45)">Z. criceta</text>
<text class="y" transform="translate(894.20 995.40) rotate(-90)" textLength="255.2" lengthAdjust="spacingAndGlyphs">Bioeroding sponge abundance (% DS cover)</text>
<text class="h" transform="translate(927.80 762.62) scale(1.03 1.04)">WA</text>
</g>
</svg>
</body></html>
